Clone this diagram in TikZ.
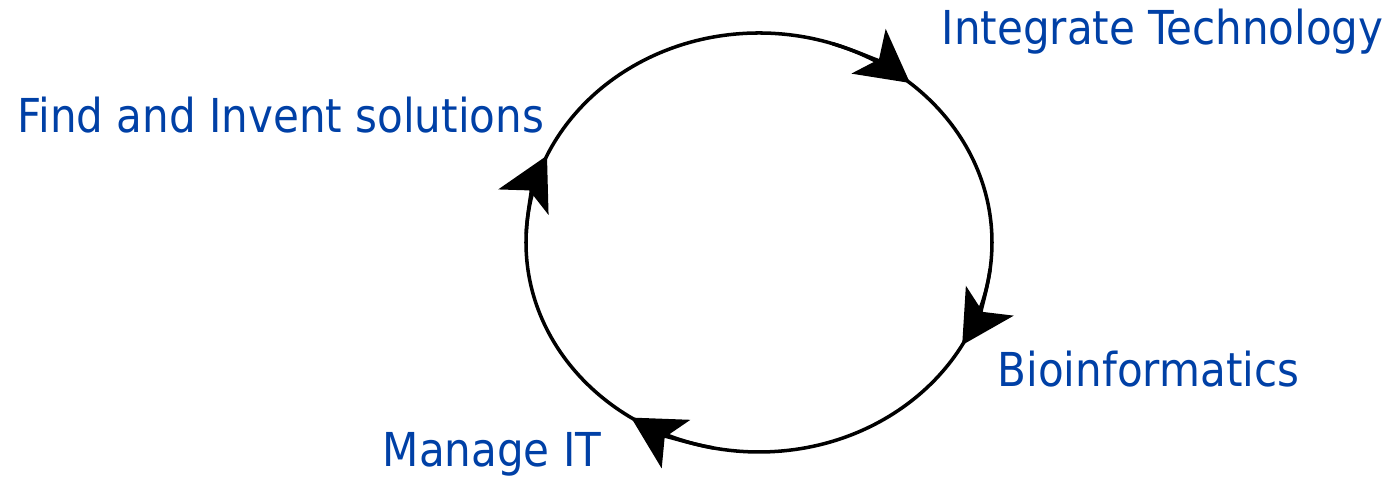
\documentclass[tikz,border=0pt]{standalone}
\usepackage{fontspec}
\setmainfont{DejaVu Sans Condensed}
\usetikzlibrary{arrows.meta, positioning, calc}
\definecolor{labelblue}{RGB}{0,64,166}
\tikzset{
  cycle/.style={
	black, line width=1pt, % the ring itself
	every node/.style={text=labelblue, font=\fontsize{13.3pt}{16pt}\selectfont, anchor=base west, inner sep=0pt}, % the blue labels
  },
  ring tip/.style={
	-{Stealth[length=0.52cm, width=0.56cm, inset=0.13cm]}, % the big black heads on the ring
  }
}
\begin{document}
\begin{tikzpicture}[cycle]
	  \useasboundingbox (0,0) rectangle (13.87,4.80);
	  \coordinate (c) at (7.59,2.375);

	  \draw (c) ellipse [x radius=2.33, y radius=2.095];
	  \foreach \a in {49.6, -29.3, -123.3, 155.5}{
		  \draw[ring tip] ($(c)+(\a+22:2.33 and 2.095)$) arc[start angle=\a+22, end angle=\a, x radius=2.33, y radius=2.095];
	  }

	  \node (tech) at (9.40,4.35) {Integrate Technology};
	  \node (bio) at (9.96,0.93) {Bioinformatics};
	  \node (manage) at (3.81,0.13) {Manage IT};
	  \node (find) at (0.16,3.47) {Find and Invent solutions};
\end{tikzpicture}
\end{document}
